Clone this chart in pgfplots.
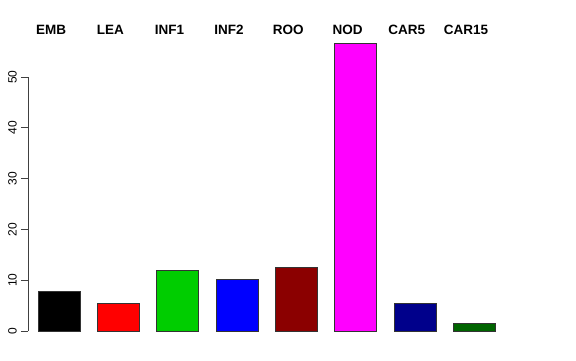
\documentclass[border=0pt]{standalone}
\usepackage{pgfplots}
\pgfplotsset{compat=1.18}
\usepackage{fontspec}
\setmainfont{Liberation Sans}
\definecolor{cEMB}{RGB}{0,0,0}
\definecolor{cLEA}{RGB}{255,0,0}
\definecolor{cINFa}{RGB}{0,205,0}
\definecolor{cINFb}{RGB}{0,0,255}
\definecolor{cROO}{RGB}{139,0,0}
\definecolor{cNOD}{RGB}{255,0,255}
\definecolor{cCARa}{RGB}{0,0,139}
\definecolor{cCARb}{RGB}{0,100,0}
\begin{document}
\begin{tikzpicture}
\useasboundingbox (0,0) rectangle (576pt,360pt);
\begin{axis}[
  at={(28pt,29pt)}, anchor=south west,
  scale only axis, width=520pt, height=254pt,
  xmin=-0.523, xmax=8.246, ymin=0, ymax=50,
  clip=false,
  axis x line=none,
  axis y line*=left,
  y axis line style={-, line width=0.8pt, black!75},
  ytick={0,10,20,30,40,50},
  tick align=outside,
  major tick length=7pt,
  y tick style={line width=0.8pt, black!75},
  /pgf/number format/assume math mode=true,
  yticklabel style={rotate=90, anchor=south, font=\fontsize{12}{14}\selectfont, inner sep=0pt, yshift=4pt},
  bar width=42pt,
]
\addplot[ybar, bar shift=0pt, fill=cEMB, draw=black!80] coordinates {(0,7.8)};
\addplot[ybar, bar shift=0pt, fill=cLEA, draw=black!80] coordinates {(1,5.5)};
\addplot[ybar, bar shift=0pt, fill=cINFa, draw=black!80] coordinates {(2,11.9)};
\addplot[ybar, bar shift=0pt, fill=cINFb, draw=black!80] coordinates {(3,10.2)};
\addplot[ybar, bar shift=0pt, fill=cROO, draw=black!80] coordinates {(4,12.6)};
\addplot[ybar, bar shift=0pt, fill=cNOD, draw=black!80] coordinates {(5,56.7)};
\addplot[ybar, bar shift=0pt, fill=cCARa, draw=black!80] coordinates {(6,5.45)};
\addplot[ybar, bar shift=0pt, fill=cCARb, draw=black!80] coordinates {(7,1.5)};
\foreach \i/\lab in {0/EMB,1/LEA,2/INF1,3/INF2,4/ROO,5/NOD,6/CAR5,7/CAR15} {
  \edef\tmp{\noexpand\node[anchor=base, inner sep=0pt, font=\noexpand\fontsize{13.5}{16}\noexpand\selectfont\noexpand\bfseries] at (axis cs:\i-0.135,58.4) {\lab};}
  \tmp
}
\end{axis}
\end{tikzpicture}
\end{document}
